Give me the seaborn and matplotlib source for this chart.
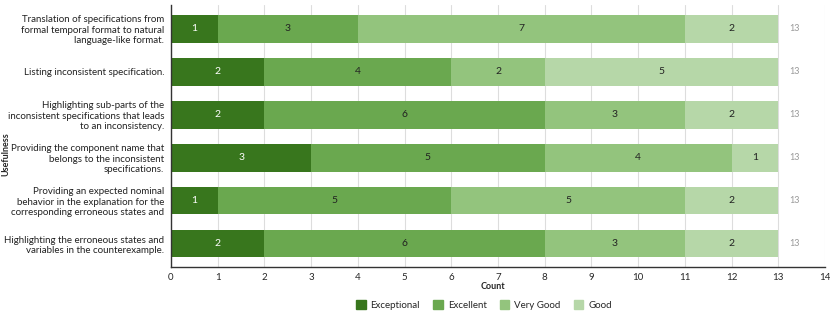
import matplotlib
matplotlib.use("Agg")
import matplotlib.pyplot as plt
import seaborn as sns
import pandas as pd
import numpy as np

items = [
    "Translation of specifications from\nformal temporal format to natural\nlanguage-like format.",
    "Listing inconsistent specification.",
    "Highlighting sub-parts of the\ninconsistent specifications that leads\nto an inconsistency.",
    "Providing the component name that\nbelongs to the inconsistent\nspecifications.",
    "Providing an expected nominal\nbehavior in the explanation for the\ncorresponding erroneous states and",
    "Highlighting the erroneous states and\nvariables in the counterexample.",
]
ratings = ["Exceptional", "Excellent", "Very Good", "Good"]
exceptional = [1, 2, 2, 3, 1, 2]
excellent = [3, 4, 6, 5, 5, 6]
very_good = [7, 2, 3, 4, 5, 3]
good = [2, 5, 2, 1, 2, 2]
colors = ["#38761d", "#6aa84f", "#93c47d", "#b6d7a8"]

sns.set_theme(style="white")
plt.rcParams["font.family"] = ["Lato", "DejaVu Sans"]

df = pd.DataFrame({"item": items, "Exceptional": exceptional, "Excellent": excellent,
                   "Very Good": very_good, "Good": good})
cum = df[ratings].cumsum(axis=1)

fig = plt.figure(figsize=(8.3, 3.11), dpi=100)
ax = fig.add_axes([0.206, 0.141, 0.788, 0.843])

# draw cumulative totals back to front so they stack
for r, c in reversed(list(zip(ratings, colors))):
    sns.barplot(x=cum[r], y=df["item"], color=c, width=0.65, ax=ax,
                saturation=1, edgecolor="none", zorder=2)

for i in range(len(df)):
    for j, r in enumerate(ratings):
        v = df.loc[i, r]
        left = cum.loc[i, r] - v
        ax.text(left + v / 2, i, str(v), ha="center", va="center", fontsize=7.5,
                color="white" if j == 0 else "#222222", zorder=3)
    ax.text(cum.loc[i, "Good"] + 0.35, i, str(cum.loc[i, "Good"]), ha="center",
            va="center", fontsize=6.5, color="#999999")

ax.set_xlim(0, 14)
ax.set_xticks(range(0, 15))
ax.xaxis.grid(True, color="#dddddd", linewidth=0.8, zorder=0)
ax.set_axisbelow(True)
ax.tick_params(axis="x", labelsize=7, length=0, pad=4)
ax.tick_params(axis="y", labelsize=7, length=0, pad=5, colors="#222222")
for s in ["top", "right"]:
    ax.spines[s].set_visible(False)
for s in ["left", "bottom"]:
    ax.spines[s].set_color("#333333")
    ax.spines[s].set_linewidth(1)
ax.set_xlabel("Count", fontsize=6.5, fontweight="bold")
ax.set_ylabel("Usefulness", fontsize=6.5, fontweight="bold")
ax.xaxis.set_label_coords(0.492, -0.058)
ax.yaxis.set_label_coords(-0.245, 0.43)
ax.set_ylim(5.55, -0.55)

handles = [plt.Rectangle((0, 0), 1, 1, color=c) for c in colors]
fig.legend(handles, ratings, loc="center", bbox_to_anchor=(0.583, 0.02), ncol=4,
           frameon=False, fontsize=7, handlelength=1.0, handleheight=1.0,
           columnspacing=1.35, handletextpad=0.5)

fig.savefig("out.png", dpi=100)
